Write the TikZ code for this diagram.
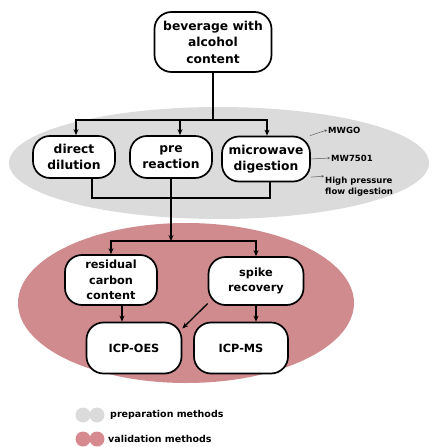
\documentclass[tikz,border=0pt]{standalone}
\usepackage{fontspec}
\setmainfont{DejaVu Sans}
\usetikzlibrary{arrows.meta}
\definecolor{ink}{RGB}{0,0,0}
\definecolor{soft}{RGB}{90,90,90}
\definecolor{prepgray}{RGB}{219,219,219}
\definecolor{valpink}{RGB}{208,139,143}
\definecolor{legpink}{RGB}{214,138,143}
\tikzset{
  every picture/.style={x=1pt, y=1pt, color=ink},
  box/.style={draw=ink, line width=1.7pt, rounded corners=17pt, fill=white, inner sep=1pt, align=center, font=\fontsize{12.3}{16.5}\selectfont\bfseries},
  valbox/.style={box, font=\fontsize{11.3}{15.5}\selectfont\bfseries},
  link/.style={line width=1.3pt},
  flow/.style={-{Stealth[length=6pt,width=5pt]}, line width=1.3pt},
  pointer/.style={-{Stealth[length=2.5pt,width=2.5pt]}, line width=0.5pt, color=soft},
  tag/.style={font=\fontsize{8.5}{11}\selectfont\bfseries, align=left, inner sep=1pt},
  legend/.style={font=\fontsize{9.5}{11}\selectfont\bfseries, inner sep=1pt, anchor=west},
}
\begin{document}
\begin{tikzpicture}
  \useasboundingbox (0,0) rectangle (432,-447);
  % two clouds: preparation (gray) and validation (pink)
  \fill[prepgray] (219,-163) ellipse [x radius=210, y radius=56];
  \fill[valpink] (186,-303) ellipse [x radius=168, y radius=80];

  \node[box, minimum width=117, minimum height=60] (bev) at (213,-42) {beverage with\\alcohol\\content};
  \node[box, minimum width=82, minimum height=42] (dil) at (74,-157) {direct\\dilution};
  \node[box, minimum width=82, minimum height=42] (pre) at (171,-157) {pre\\reaction};
  \node[box, minimum width=88, minimum height=45] (mw) at (266,-159) {microwave\\digestion};
  \node[valbox, minimum width=92, minimum height=50] (res) at (111,-280) {residual\\carbon\\content};
  \node[valbox, minimum width=95, minimum height=48] (spk) at (256,-281) {spike\\recovery};
  \node[valbox, minimum width=95, minimum height=51] (oes) at (134,-348) {ICP-OES};
  \node[valbox, minimum width=94, minimum height=51] (ms) at (241,-348) {ICP-MS};

  \node[tag, anchor=west] (mwgo) at (327,-130) {MWGO};
  \node[tag, anchor=west] (mw7501) at (330,-158) {MW7501};
  \node[tag, anchor=west] (hpfd) at (324,-187) {High pressure\\flow digestion};
  \draw[pointer] (mw.28) -- (mwgo.west);
  \draw[pointer] (mw.east) -- (mw7501.west);
  \draw[pointer] (mw.-22) -- (hpfd.north west);

  \coordinate (split) at (213,-120);
  \coordinate (merge) at (171,-198);
  \coordinate (fork) at (171,-241);
  \draw[link] (bev) -- (split);
  \draw[flow] (split) -| ([xshift=2pt]dil.north);
  \draw[flow] (split) -| ([xshift=9pt]pre.north);
  \draw[flow] (split) -| ([xshift=1pt]mw.north);
  \draw[link] ([xshift=18pt]dil.south) |- (merge) -| ([xshift=4pt]mw.south);
  \draw[flow] (pre.south) -- (fork);
  \draw[flow] (fork) -| (res.north);
  \draw[flow] (fork) -| (spk.north);
  \draw[flow] ([xshift=11pt]res.south) -- ([xshift=11pt]res.south |- oes.north);
  \draw[flow] (spk.south) -- (spk.south |- ms.north);
  \draw[flow] (spk.205) -- (oes.22);

  % legend
  \fill[prepgray] (83,-415) circle (7.5) (97,-415) circle (7.5);
  \fill[legpink] (83,-439) circle (7.5) (97,-439) circle (7.5);
  \node[legend] (prep) at (109,-415) {preparation methods};
  \node[legend] (valid) at (107,-439) {validation methods};
\end{tikzpicture}
\end{document}
